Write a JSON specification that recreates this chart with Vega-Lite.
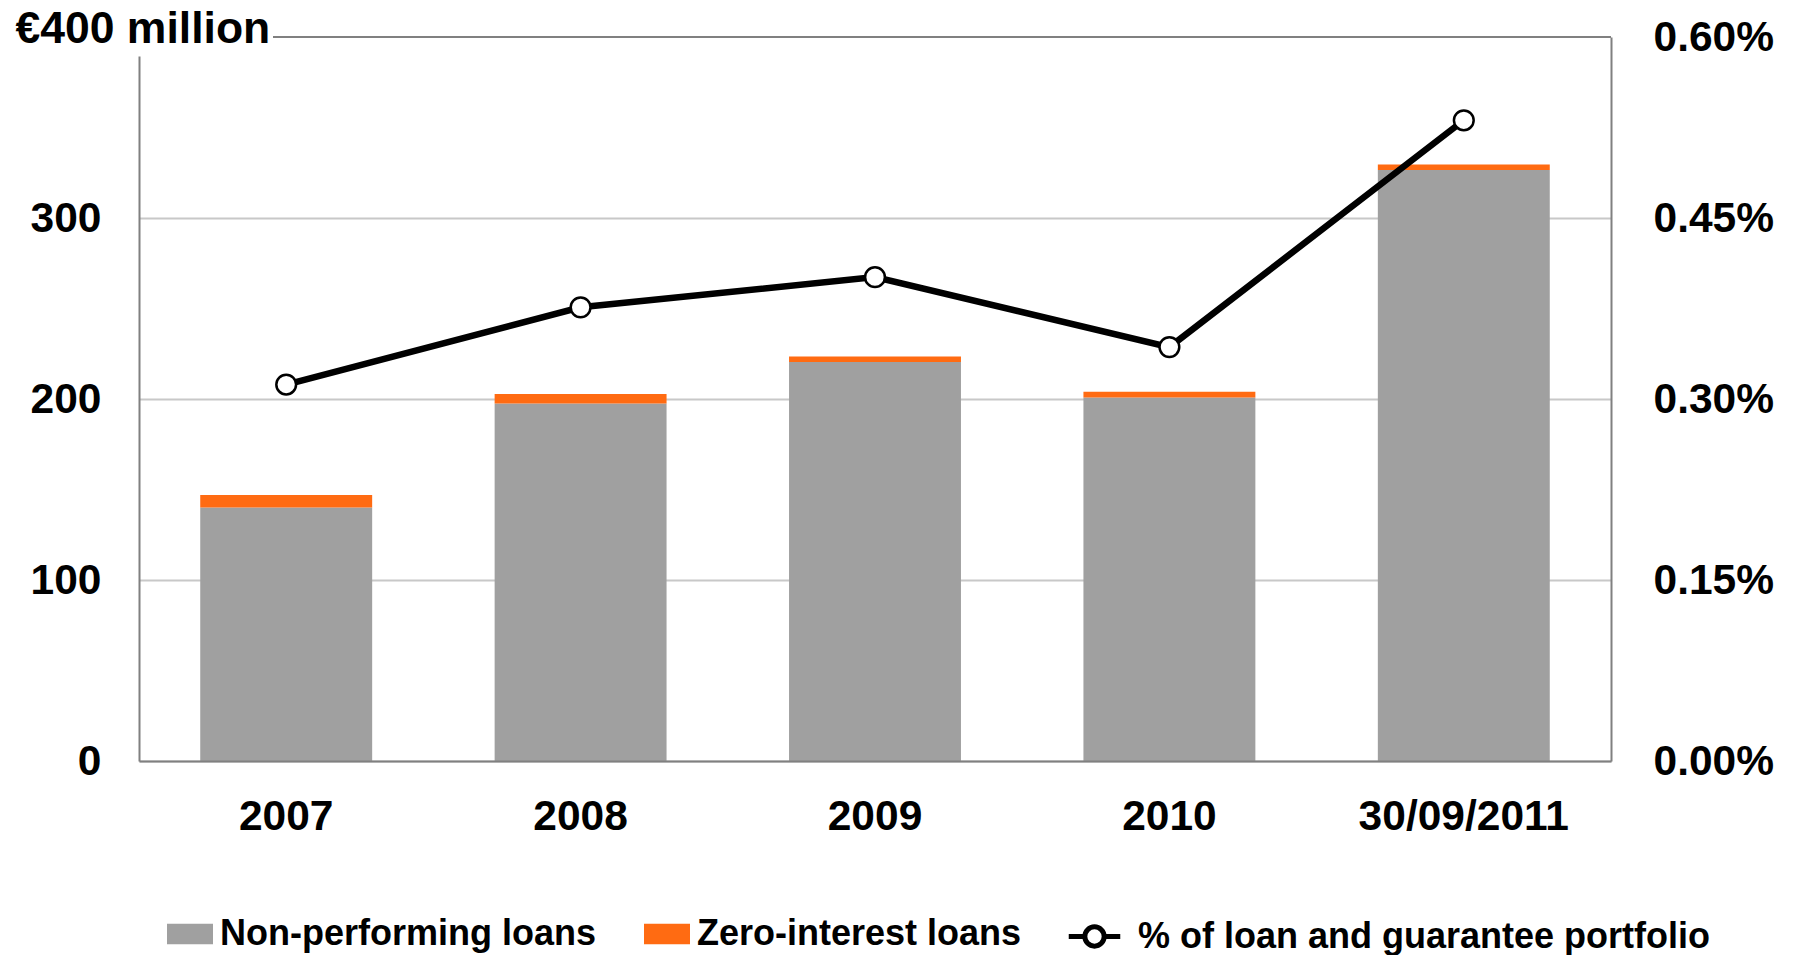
{
  "$schema": "https://vega.github.io/schema/vega-lite/v6.json",
  "width": 1472,
  "height": 724,
  "autosize": {"type": "none"},
  "padding": {"left": 139, "top": 37, "right": 187, "bottom": 194},
  "background": "white",
  "config": {
    "view": {"stroke": null},
    "font": "Liberation Sans",
    "axis": {"labelFont": "Liberation Sans", "labelFontWeight": "bold", "labelColor": "black", "labelFontSize": 42.5, "ticks": false, "labelLimit": 600}
  },
  "datasets": {
    "bars": [
      {"period": "2007", "series": "Non-performing loans", "value": 140},
      {"period": "2007", "series": "Zero-interest loans", "value": 7},
      {"period": "2008", "series": "Non-performing loans", "value": 197.5},
      {"period": "2008", "series": "Zero-interest loans", "value": 5.3},
      {"period": "2009", "series": "Non-performing loans", "value": 220.5},
      {"period": "2009", "series": "Zero-interest loans", "value": 3},
      {"period": "2010", "series": "Non-performing loans", "value": 200.8},
      {"period": "2010", "series": "Zero-interest loans", "value": 3.2},
      {"period": "30/09/2011", "series": "Non-performing loans", "value": 326.5},
      {"period": "30/09/2011", "series": "Zero-interest loans", "value": 3.1}
    ],
    "pct": [
      {"period": "2007", "pct": 0.00312},
      {"period": "2008", "pct": 0.00376},
      {"period": "2009", "pct": 0.00401},
      {"period": "2010", "pct": 0.00343},
      {"period": "30/09/2011", "pct": 0.00531}
    ]
  },
  "layer": [
    {
      "data": {"name": "bars"},
      "layer": [
        {
          "mark": {"type": "bar"},
          "encoding": {
            "x": {
              "field": "period",
              "type": "nominal",
              "sort": ["2007", "2008", "2009", "2010", "30/09/2011"],
              "scale": {"paddingInner": 0.416, "paddingOuter": 0.208},
              "axis": {"title": null, "labelAngle": 0, "labelPadding": 34, "labelLimit": 600, "domainColor": "#808080", "domainWidth": 2, "zindex": 1, "grid": false}
            },
            "y": {
              "field": "value",
              "type": "quantitative",
              "stack": "zero",
              "scale": {"domain": [0, 400]},
              "axis": {
                "title": "€400 million",
                "titleAngle": 0,
                "titleX": -124,
                "titleY": -8,
                "titleAlign": "left",
                "titleBaseline": "middle",
                "titleFont": "Liberation Sans",
                "titleFontSize": 44.5,
                "titleFontWeight": "bold",
                "titleColor": "black",
                "values": [0, 100, 200, 300],
                "grid": true,
                "gridColor": "#c8c8c8",
                "gridWidth": 2,
                "domainColor": "#808080",
                "domainWidth": 2,
                "domainDash": [705, 100],
                "labelPadding": 38
              }
            },
            "order": {"field": "series", "sort": "ascending"},
            "color": {
              "field": "series",
              "type": "nominal",
              "scale": {
                "domain": ["Non-performing loans", "Zero-interest loans"],
                "range": ["#a0a0a0", "#ff6b12"]
              },
              "legend": {
                "orient": "none",
                "direction": "horizontal",
                "legendX": 28,
                "legendY": 874,
                "title": null,
                "padding": 0,
                "columnPadding": 48,
                "symbolSize": 2116,
                "symbolType": "M-1,-0.45H1V0.45H-1Z",
                "symbolStrokeWidth": 0,
                "symbolOpacity": 1,
                "labelFont": "Liberation Sans",
                "labelFontSize": 36,
                "labelFontWeight": "bold",
                "labelColor": "black",
                "labelOffset": 7,
                "labelLimit": 2000
              }
            }
          }
        },
        {
          "mark": {"type": "rule", "color": "#808080", "strokeWidth": 2, "strokeDash": [1338, 600]},
          "encoding": {"y": {"datum": 400, "type": "quantitative"}}
        }
      ]
    },
    {
      "data": {"name": "pct"},
      "encoding": {
        "x": {
          "field": "period",
          "type": "nominal",
          "sort": ["2007", "2008", "2009", "2010", "30/09/2011"]
        },
        "y": {
          "field": "pct",
          "type": "quantitative",
          "scale": {"domain": [0, 0.006]},
          "axis": {
            "title": null,
            "orient": "right",
            "values": [0, 0.0015, 0.003, 0.0045, 0.006],
            "format": ".2%",
            "grid": false,
            "domainColor": "#808080",
            "domainWidth": 2,
            "labelPadding": 42
          }
        }
      },
      "layer": [
        {
          "mark": {"type": "line", "strokeWidth": 6.5},
          "encoding": {
            "stroke": {
              "datum": "% of loan and guarantee portfolio",
              "type": "nominal",
              "scale": {"range": ["#000000"]},
              "legend": {
                "orient": "none",
                "direction": "horizontal",
                "legendX": 930,
                "legendY": 874,
                "title": null,
                "padding": 0,
                "symbolSize": 2116,
                "symbolType": "M-1.12,0H-0.42M0.42,0H1.12M0.42,0A0.42,0.42 0 1 1 -0.42,0A0.42,0.42 0 1 1 0.42,0Z",
                "symbolFillColor": "white",
                "symbolStrokeColor": "black",
                "symbolStrokeWidth": 5,
                "symbolOpacity": 1,
                "labelFont": "Liberation Sans",
                "labelFontSize": 36,
                "labelFontWeight": "bold",
                "labelColor": "black",
                "labelOffset": 18,
                "labelLimit": 2000
              }
            }
          }
        },
        {
          "mark": {"type": "point", "filled": true, "fill": "white", "stroke": "black", "strokeWidth": 2.5, "size": 390, "opacity": 1}
        }
      ]
    }
  ],
  "resolve": {"scale": {"y": "independent"}}
}
